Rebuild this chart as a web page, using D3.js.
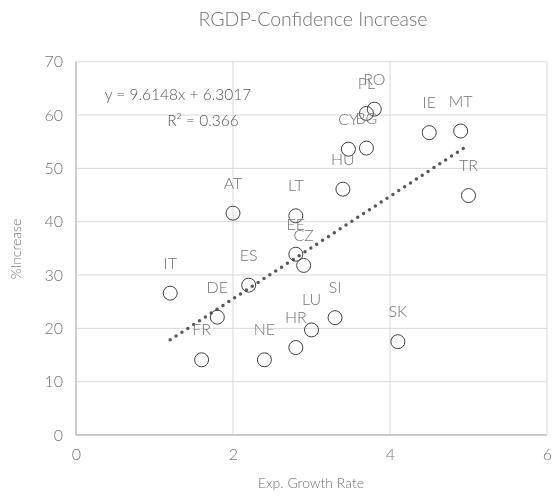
<!DOCTYPE html>
<meta charset="utf-8">
<style>
body{ margin:0; background:#fff; }
svg{ will-change:transform; }
text{ font-family:Lato,"Open Sans","DejaVu Sans",sans-serif; fill:#737373; font-weight:300; }
.grid line{ stroke:#d9d9d9; stroke-width:1; }
.axis path, .axis line{ stroke:none; }
.pt{ fill:none; stroke:#404040; stroke-width:1; }
.trend{ stroke:#595959; stroke-width:3.5; stroke-linecap:round; stroke-dasharray:0,7; fill:none; }
.eq{ fill:#595959; }
</style>
<body>
<script src="https://cdnjs.cloudflare.com/ajax/libs/d3/7.8.5/d3.min.js"></script>
<script>

var width = 553,
    height = 497;

// data
var countries = ["AT","LT","EE","CZ","ES","IT","DE","SI","LU","HR","SK","FR","NE","IE","MT","TR","RO","PL","CY","BG","HU"];
var growth    = [2.0, 2.8, 2.8, 2.9, 2.2, 1.2, 1.8, 3.3, 3.0, 2.8, 4.1, 1.6, 2.4, 4.5, 4.9, 5.0, 3.8, 3.7, 3.47, 3.7, 3.4];
var increase  = [41.6,41.1,33.9,31.8,28.1,26.6,22.1,22.0,19.7,16.4,17.5,14.1,14.1,56.7,57.0,44.9,61.1,60.3,53.6,53.8,46.1];
var xTicks = [0,2,4,6];
var yTicks = [0,10,20,30,40,50,60,70];
var trendSlope = 9.6148,
    trendIntercept = 6.3017,
    trendR2 = 0.366;

var data = countries.map(function(c,i){ return {name:c, x:growth[i], y:increase[i]}; });

var x = d3.scaleLinear().domain([0,6]).range([76,547]);
var y = d3.scaleLinear().domain([0,70]).range([435,61.7]);

var svg = d3.select("body").append("svg")
    .attr("width", width)
    .attr("height", height);

// gridlines
var grid = svg.append("g").attr("class","grid");
grid.selectAll(".h").data(yTicks).enter().append("line")
    .attr("x1", x(0)).attr("x2", x(6))
    .attr("y1", function(d){ return y(d); })
    .attr("y2", function(d){ return y(d); });
grid.selectAll(".v").data(xTicks).enter().append("line")
    .attr("y1", y(0)).attr("y2", y(70))
    .attr("x1", function(d){ return x(d); })
    .attr("x2", function(d){ return x(d); });

// axis lines
svg.append("line").attr("x1",x(0)).attr("x2",x(0)).attr("y1",y(0)).attr("y2",y(70))
    .attr("stroke","#bfbfbf").attr("stroke-width",1.3);
svg.append("line").attr("x1",x(0)).attr("x2",x(6)).attr("y1",y(0)).attr("y2",y(0))
    .attr("stroke","#bfbfbf").attr("stroke-width",1.3);

// tick labels
var xAxis = svg.append("g").attr("class","axis")
    .attr("transform","translate(0," + (y(0) + 10) + ")")
    .call(d3.axisBottom(x).tickValues(xTicks).tickFormat(d3.format("d")).tickSize(0).tickPadding(4));
xAxis.selectAll("text").style("font-size","16px");

var yAxis = svg.append("g").attr("class","axis")
    .attr("transform","translate(" + (x(0) - 9) + ",0)")
    .call(d3.axisLeft(y).tickValues(yTicks).tickFormat(d3.format("d")).tickSize(0).tickPadding(4));
yAxis.selectAll("text").style("font-size","16px");

// trendline
var xr = d3.extent(growth);
svg.append("line").attr("class","trend")
    .attr("x1", x(xr[0])).attr("y1", y(trendSlope*xr[0]+trendIntercept))
    .attr("x2", x(xr[1])).attr("y2", y(trendSlope*xr[1]+trendIntercept));

// points
svg.selectAll(".pt").data(data).enter().append("circle")
    .attr("class","pt")
    .attr("cx", function(d){ return x(d.x); })
    .attr("cy", function(d){ return y(d.y); })
    .attr("r", 7);

// labels
svg.selectAll(".lbl").data(data).enter().append("text")
    .attr("class","lbl")
    .attr("x", function(d){ return x(d.x); })
    .attr("y", function(d){ return y(d.y) - 28.5; })
    .attr("text-anchor","middle")
    .attr("dominant-baseline","middle")
    .style("font-size","16px")
    .text(function(d){ return d.name; });

// equation
svg.append("text").attr("class","eq").attr("x",178).attr("y",100).attr("text-anchor","middle")
    .style("font-size","15.5px")
    .text("y = " + trendSlope + "x + " + trendIntercept);
svg.append("text").attr("class","eq").attr("x",203).attr("y",126).attr("text-anchor","middle")
    .style("font-size","15.5px")
    .text("R\u00B2 = " + trendR2);

// titles
svg.append("text").attr("x",313).attr("y",26).attr("text-anchor","middle")
    .style("font-size","19.5px")
    .text("RGDP-Confidence Increase");
svg.append("text").attr("x",311).attr("y",488).attr("text-anchor","middle")
    .style("font-size","14px")
    .text("Exp. Growth Rate");
svg.append("text").attr("transform","translate(21,249) rotate(-90)").attr("text-anchor","middle")
    .style("font-size","14px")
    .text("%Increase");

</script>
